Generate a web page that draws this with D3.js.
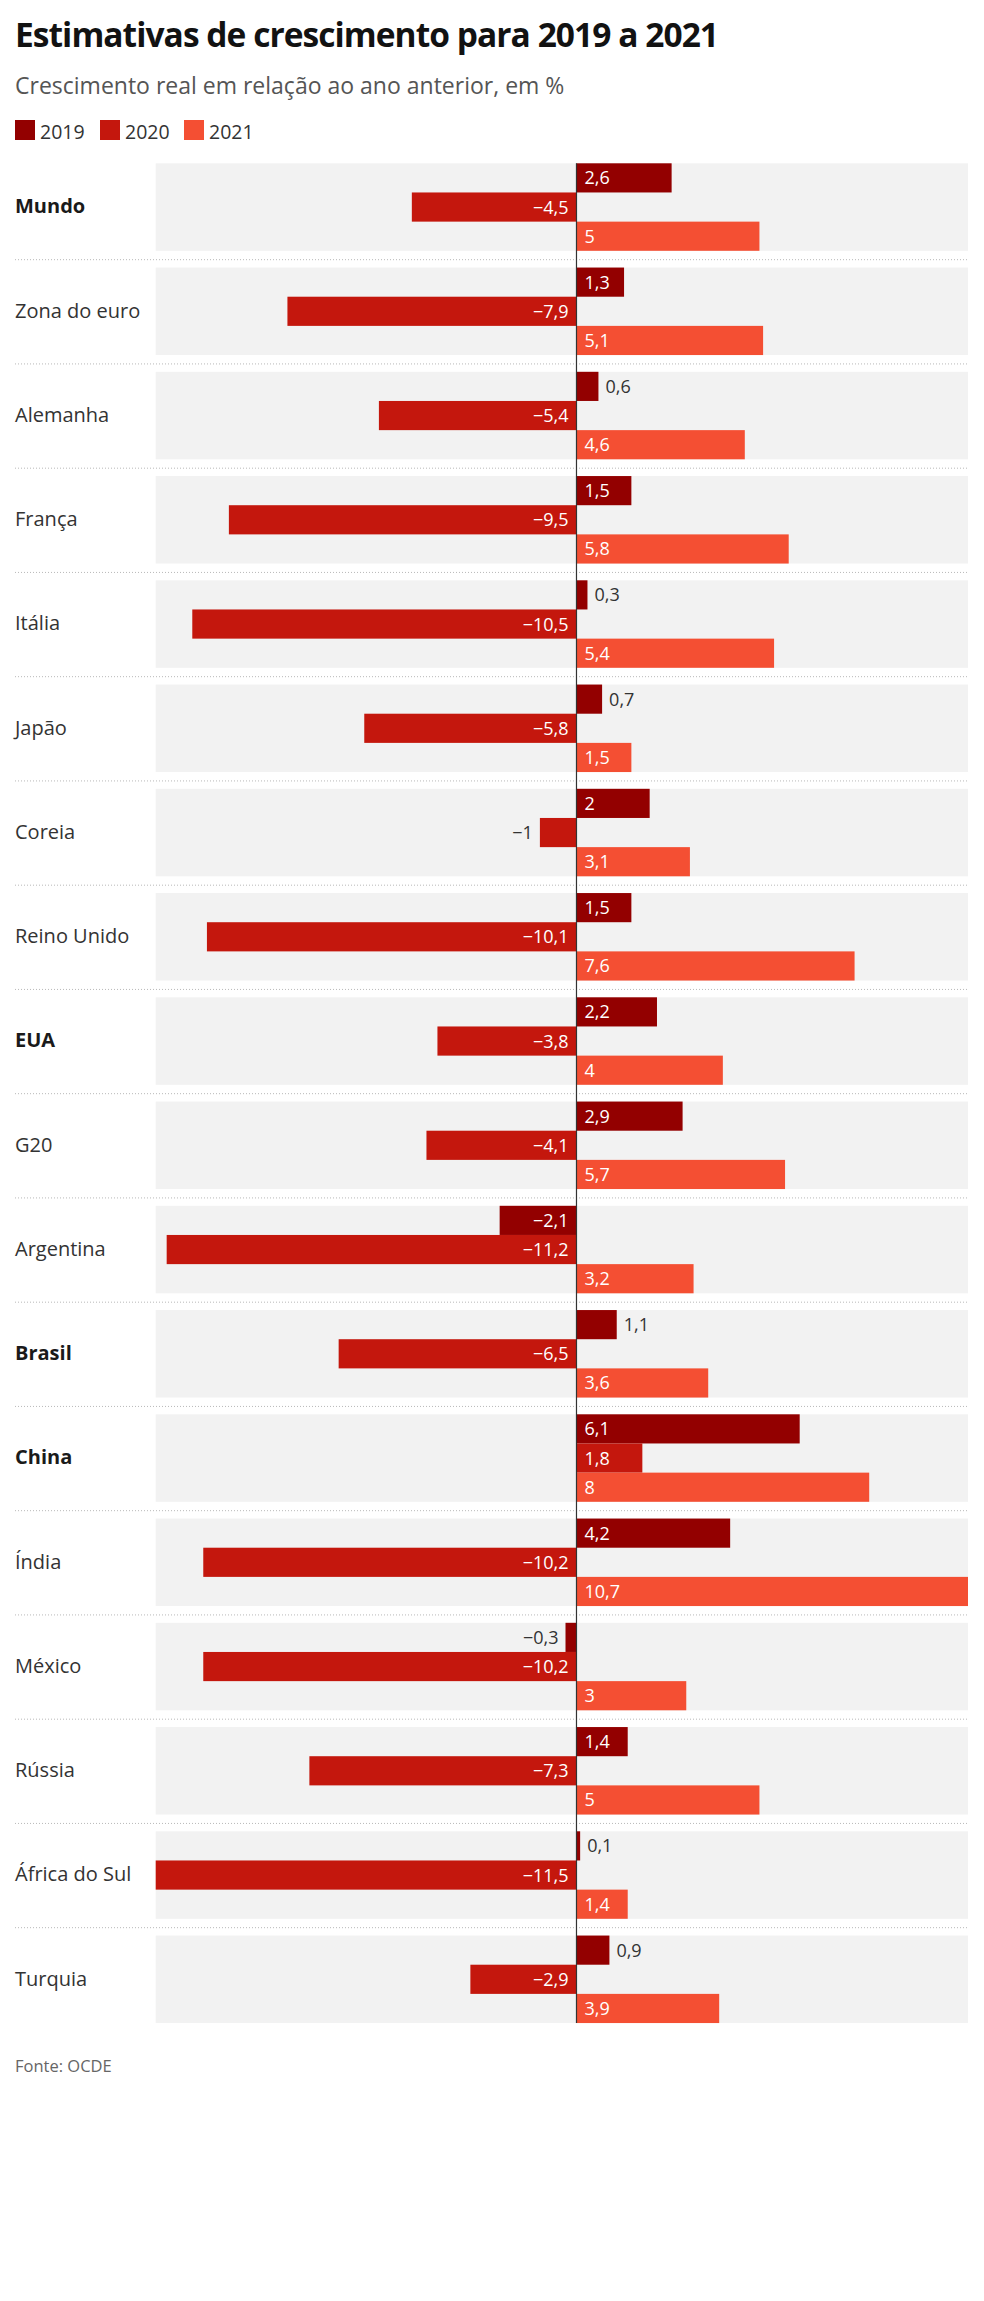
<!DOCTYPE html>
<html>
<head>
<meta charset="utf-8">
<script src="https://cdn.jsdelivr.net/npm/d3@7"></script>
<style>
  html, body { margin: 0; padding: 0; background: #fff; }
  svg { display: block; }
  text { font-family: "Open Sans", "Noto Sans", sans-serif; }
</style>
</head>
<body>
<svg id="chart" width="984" height="2301"></svg>
<script>
const categories = ["Mundo","Zona do euro","Alemanha","França","Itália","Japão","Coreia","Reino Unido","EUA","G20","Argentina","Brasil","China","Índia","México","Rússia","África do Sul","Turquia"];
const boldCategories = ["Mundo","EUA","Brasil","China"];
const seriesNames = ["2019","2020","2021"];
const values2019 = [2.6,1.3,0.6,1.5,0.3,0.7,2,1.5,2.2,2.9,-2.1,1.1,6.1,4.2,-0.3,1.4,0.1,0.9];
const values2020 = [-4.5,-7.9,-5.4,-9.5,-10.5,-5.8,-1,-10.1,-3.8,-4.1,-11.2,-6.5,1.8,-10.2,-10.2,-7.3,-11.5,-2.9];
const values2021 = [5,5.1,4.6,5.8,5.4,1.5,3.1,7.6,4,5.7,3.2,3.6,8,10.7,3,5,1.4,3.9];
const seriesColors = ["#930000","#c4170d","#f44f33"];
const titleText = "Estimativas de crescimento para 2019 a 2021";
const subtitleText = "Crescimento real em relação ao ano anterior, em %";
const sourceText = "Fonte: OCDE";

const seriesValues = [values2019, values2020, values2021];
const rows = categories.map((c, i) => ({
  cat: c,
  vals: seriesNames.map((s, j) => ({ series: s, color: seriesColors[j], v: seriesValues[j][i] }))
}));

const svg = d3.select("#chart");
const loc = d3.formatLocale({ decimal: ",", thousands: ".", grouping: [3], currency: ["", ""], minus: "\u2212" });
const fmt = v => loc.format(",")(v);

// Header
svg.append("text").attr("x", 15).attr("y", 46.5)
  .attr("font-size", 33.5).attr("font-weight", 700).attr("fill", "#121212")
  .attr("textLength", 704).attr("lengthAdjust", "spacing")
  .text(titleText);
svg.append("text").attr("x", 15).attr("y", 93.5)
  .attr("font-size", 23).attr("fill", "#555")
  .text(subtitleText);

// Legend
const legend = svg.append("g");
const legendX = [15, 100, 184];
seriesNames.forEach((s, j) => {
  legend.append("rect").attr("x", legendX[j]).attr("y", 120).attr("width", 20).attr("height", 20).attr("fill", seriesColors[j]);
  legend.append("text").attr("x", legendX[j] + 25).attr("y", 139).attr("font-size", 19.5).attr("fill", "#333").text(s);
});

// Scales
const x = d3.scaleLinear().domain([-11.5, 10.7]).range([155.7, 968]);
const plotTop = 163.3, groupStep = 104.25, panelH = 87.5;
const y = d3.scaleBand().domain(categories)
  .range([plotTop, plotTop + groupStep * (categories.length - 1) + panelH])
  .paddingInner((groupStep - panelH) / groupStep).paddingOuter(0);
const ySub = d3.scaleBand().domain(seriesNames).range([0, y.bandwidth()]);

// Separators
svg.append("g").selectAll("line").data(categories.slice(1)).join("line")
  .attr("x1", 15).attr("x2", x.range()[1])
  .attr("y1", d => y(d) - (y.step() - y.bandwidth()) / 2 + 0.5)
  .attr("y2", d => y(d) - (y.step() - y.bandwidth()) / 2 + 0.5)
  .attr("stroke", "#b8b8b8").attr("stroke-width", 1).attr("stroke-dasharray", "1,2");

const groups = svg.append("g").selectAll("g").data(rows).join("g")
  .attr("transform", d => `translate(0,${y(d.cat)})`);

// Panels
groups.append("rect")
  .attr("x", x.range()[0]).attr("width", x.range()[1] - x.range()[0])
  .attr("y", 0).attr("height", y.bandwidth()).attr("fill", "#f2f2f2");

// Category labels
groups.append("text")
  .attr("x", 15).attr("y", y.bandwidth() / 2).attr("dy", "0.32em")
  .attr("font-size", 20)
  .attr("font-weight", d => boldCategories.includes(d.cat) ? 700 : 400)
  .attr("fill", d => boldCategories.includes(d.cat) ? "#1a1a1a" : "#333")
  .text(d => d.cat);

// Bars
groups.selectAll("rect.bar").data(d => d.vals).join("rect").attr("class", "bar")
  .attr("x", d => x(Math.min(0, d.v)))
  .attr("width", d => Math.abs(x(d.v) - x(0)))
  .attr("y", d => ySub(d.series))
  .attr("height", ySub.bandwidth())
  .attr("fill", d => d.color);

// Value labels
const insideMin = 1.2;
groups.selectAll("text.val").data(d => d.vals).join("text").attr("class", "val")
  .attr("font-size", 18)
  .attr("y", d => ySub(d.series) + ySub.bandwidth() / 2)
  .attr("dy", "0.36em")
  .attr("x", d => {
    const inside = Math.abs(d.v) >= insideMin;
    if (d.v >= 0) return inside ? x(0) + 8 : x(d.v) + 7;
    return inside ? x(0) - 8 : x(d.v) - 7;
  })
  .attr("text-anchor", d => d.v >= 0 ? "start" : "end")
  .attr("fill", d => Math.abs(d.v) >= insideMin ? "#fff" : "#333")
  .text(d => fmt(d.v));

// Zero line
svg.append("line")
  .attr("x1", x(0)).attr("x2", x(0))
  .attr("y1", y.range()[0]).attr("y2", y.range()[1])
  .attr("stroke", "#333").attr("stroke-width", 1.2);

// Source
svg.append("text").attr("x", 15).attr("y", 2072)
  .attr("font-size", 16.5).attr("fill", "#666").text(sourceText);
</script>
</body>
</html>
